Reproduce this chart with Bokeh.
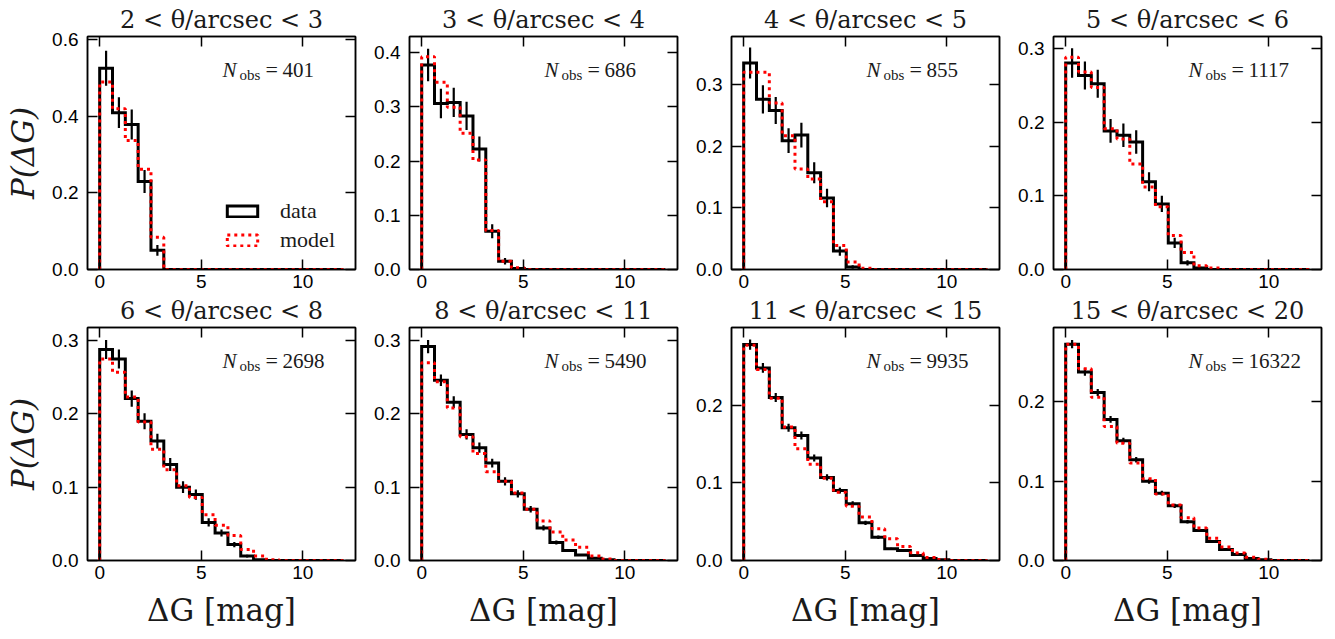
import numpy as np
from bokeh.plotting import figure
from bokeh.models import (Range1d, LinearAxis, FixedTicker, Label, Legend,
                          LegendItem, Title, ColumnDataSource, CustomJSTickFormatter,
                          PrintfTickFormatter)
from bokeh.layouts import row, column
from bokeh.embed import file_html
from bokeh.resources import INLINE

# ---------------- data ----------------
bin_edges = np.linspace(0, 12, 20)  # 19 bins

titles = ["2 < θ/arcsec < 3", "3 < θ/arcsec < 4", "4 < θ/arcsec < 5",
          "5 < θ/arcsec < 6", "6 < θ/arcsec < 8", "8 < θ/arcsec < 11",
          "11 < θ/arcsec < 15", "15 < θ/arcsec < 20"]
n_obs = [401, 686, 855, 1117, 2698, 5490, 9935, 16322]

data_1 = [0.526, 0.410, 0.379, 0.230, 0.050, 0, 0, 0, 0, 0, 0, 0, 0, 0, 0, 0, 0, 0, 0]
err_1 = [0.046, 0.040, 0.039, 0.030, 0.014, 0, 0, 0, 0, 0, 0, 0, 0, 0, 0, 0, 0, 0, 0]
model_1 = [0.490, 0.420, 0.337, 0.262, 0.084, 0, 0, 0, 0, 0, 0, 0, 0, 0, 0, 0, 0, 0, 0]

data_2 = [0.377, 0.306, 0.308, 0.283, 0.222, 0.0705, 0.015, 0.002, 0, 0, 0, 0, 0, 0, 0, 0, 0, 0, 0]
err_2 = [0.030, 0.027, 0.027, 0.026, 0.023, 0.013, 0.006, 0.002, 0, 0, 0, 0, 0, 0, 0, 0, 0, 0, 0]
model_2 = [0.392, 0.345, 0.299, 0.251, 0.202, 0.072, 0.015, 0.003, 0, 0, 0, 0, 0, 0, 0, 0, 0, 0, 0]

data_3 = [0.335, 0.276, 0.258, 0.209, 0.218, 0.157, 0.116, 0.030, 0.004, 0, 0, 0, 0, 0, 0, 0, 0, 0, 0]
err_3 = [0.025, 0.023, 0.022, 0.020, 0.020, 0.017, 0.015, 0.0075, 0.0027, 0, 0, 0, 0, 0, 0, 0, 0, 0, 0]
model_3 = [0.320, 0.320, 0.270, 0.217, 0.163, 0.147, 0.110, 0.039, 0.012, 0.002, 0, 0, 0, 0, 0, 0, 0, 0, 0]

data_4 = [0.280, 0.263, 0.252, 0.188, 0.182, 0.173, 0.119, 0.089, 0.036, 0.009, 0.002, 0, 0, 0, 0, 0, 0, 0, 0]
err_4 = [0.020, 0.019, 0.019, 0.016, 0.016, 0.016, 0.013, 0.011, 0.007, 0.0036, 0.0017, 0, 0, 0, 0, 0, 0, 0, 0]
model_4 = [0.288, 0.268, 0.247, 0.191, 0.177, 0.143, 0.112, 0.085, 0.046, 0.023, 0.005, 0.002, 0, 0, 0, 0, 0, 0, 0]

data_5 = [0.288, 0.275, 0.221, 0.190, 0.163, 0.131, 0.100, 0.090, 0.052, 0.0375, 0.0217, 0.006, 0.001, 0, 0, 0, 0, 0, 0]
err_5 = [0.013, 0.013, 0.011, 0.011, 0.010, 0.009, 0.008, 0.007, 0.0055, 0.0047, 0.0036, 0.0019, 0.0008, 0, 0, 0, 0, 0, 0]
model_5 = [0.275, 0.257, 0.223, 0.189, 0.152, 0.124, 0.102, 0.086, 0.0625, 0.048, 0.034, 0.015, 0.006, 0.001, 0, 0, 0, 0, 0]

data_6 = [0.292, 0.246, 0.216, 0.172, 0.154, 0.133, 0.108, 0.091, 0.070, 0.0445, 0.0245, 0.0135, 0.0075, 0.003, 0.001, 0, 0, 0, 0]
err_6 = [0.009, 0.008, 0.008, 0.007, 0.007, 0.006, 0.0056, 0.005, 0.0045, 0.0036, 0.0027, 0.002, 0.0015, 0.0009, 0.0005, 0, 0, 0, 0]
model_6 = [0.270, 0.244, 0.208, 0.169, 0.146, 0.121, 0.108, 0.092, 0.070, 0.054, 0.039, 0.028, 0.018, 0.006, 0.002, 0, 0, 0, 0]

data_7 = [0.278, 0.248, 0.210, 0.171, 0.161, 0.132, 0.107, 0.090, 0.073, 0.0485, 0.030, 0.015, 0.013, 0.0064, 0.0026, 0.001, 0, 0, 0]
err_7 = [0.0066, 0.0063, 0.0058, 0.0052, 0.0051, 0.0046, 0.0041, 0.0038, 0.0034, 0.0028, 0.0022, 0.0015, 0.0014, 0.001, 0.0006, 0.0004, 0, 0, 0]
model_7 = [0.277, 0.246, 0.209, 0.172, 0.144, 0.124, 0.106, 0.088, 0.070, 0.056, 0.041, 0.028, 0.018, 0.010, 0.004, 0.0013, 0, 0, 0]

data_8 = [0.273, 0.238, 0.212, 0.178, 0.151, 0.127, 0.100, 0.085, 0.069, 0.049, 0.038, 0.024, 0.0138, 0.0075, 0.0025, 0.001, 0, 0, 0]
err_8 = [0.0051, 0.0048, 0.0045, 0.0042, 0.0038, 0.0035, 0.0031, 0.0029, 0.0026, 0.0022, 0.0019, 0.0015, 0.0012, 0.0009, 0.0005, 0.0003, 0, 0, 0]
model_8 = [0.273, 0.242, 0.206, 0.169, 0.148, 0.123, 0.103, 0.084, 0.070, 0.054, 0.041, 0.028, 0.017, 0.0096, 0.004, 0.0017, 0, 0, 0]

y_max = [0.609, 0.4295, 0.378, 0.316, 0.318, 0.318, 0.300, 0.294]
y_ticks = [[0, 0.2, 0.4, 0.6], [0, 0.1, 0.2, 0.3, 0.4], [0, 0.1, 0.2, 0.3],
           [0, 0.1, 0.2, 0.3], [0, 0.1, 0.2, 0.3], [0, 0.1, 0.2, 0.3],
           [0, 0.1, 0.2], [0, 0.1, 0.2]]
x_ticks = [0, 5, 10]

all_data = [data_1, data_2, data_3, data_4, data_5, data_6, data_7, data_8]
all_err = [err_1, err_2, err_3, err_4, err_5, err_6, err_7, err_8]
all_model = [model_1, model_2, model_3, model_4, model_5, model_6, model_7, model_8]

# ---------------- helpers ----------------
def step_xy(edges, vals):
    xs, ys = [edges[0]], [0.0]
    for k, v in enumerate(vals):
        xs += [edges[k], edges[k + 1]]
        ys += [v, v]
    xs.append(edges[-1]); ys.append(0.0)
    return xs, ys

TICK_FONT = "Liberation Sans"
SERIF = "DejaVu Serif"
LSERIF = "Liberation Serif"
FRAME_W, FRAME_H = 268, 235
TXT = "#1a1a1a"


def style_axis(ax, ticks, labels=True):
    ax.ticker = FixedTicker(ticks=ticks)
    ax.major_tick_in = 10
    ax.major_tick_out = 0
    ax.minor_tick_in = 0
    ax.minor_tick_out = 0
    ax.axis_line_color = "black"
    ax.axis_line_width = 1.5
    ax.major_tick_line_color = "black"
    ax.major_tick_line_width = 1.5
    if labels:
        ax.major_label_text_font = TICK_FONT
        ax.major_label_text_font_size = "19px"
        ax.major_label_text_color = "black"
    else:
        ax.formatter = CustomJSTickFormatter(code="return ''")
        ax.major_label_standoff = 0


def make_panel(i, col, rw):
    left = 87 if col == 0 else 52
    right = 14 if col == 3 else 2
    top = 34
    bottom = 22 if rw == 0 else 79
    p = figure(width=left + FRAME_W + right, height=top + FRAME_H + bottom,
               x_range=Range1d(-0.6, 12.6), y_range=Range1d(0, y_max[i]),
               output_backend="svg", toolbar_location=None,
               min_border_left=left, min_border_right=right,
               min_border_top=top, min_border_bottom=bottom)
    p.xgrid.visible = False
    p.ygrid.visible = False
    p.outline_line_color = "black"
    p.outline_line_width = 1.5
    p.background_fill_color = "white"
    p.border_fill_color = "white"

    xax = p.below[0]
    yax = p.left[0]
    style_axis(xax, x_ticks)
    xax.major_label_standoff = 5
    style_axis(yax, y_ticks[i])
    yax.formatter = PrintfTickFormatter(format="%.1f")
    yax.major_label_standoff = 9

    if col == 0:
        yax.axis_label = "P(ΔG)"
        yax.axis_label_text_font = SERIF
        yax.axis_label_text_font_size = "31px"
        yax.axis_label_text_font_style = "italic"
        yax.axis_label_text_color = TXT
        yax.axis_label_standoff = 8
    if rw == 1:
        xax.axis_label = "ΔG [mag]"
        xax.axis_label_text_font = SERIF
        xax.axis_label_text_font_size = "31px"
        xax.axis_label_text_font_style = "normal"
        xax.axis_label_text_color = TXT
        xax.axis_label_standoff = 10

    top_ax = LinearAxis()
    style_axis(top_ax, x_ticks, labels=False)
    p.add_layout(top_ax, "above")
    right_ax = LinearAxis()
    style_axis(right_ax, y_ticks[i], labels=False)
    p.add_layout(right_ax, "right")

    p.title = Title(text=titles[i], align="center", text_font=SERIF,
                    text_font_size="24px", text_font_style="normal",
                    text_color=TXT, standoff=6)

    edges = list(bin_edges)
    centers = [(edges[k] + edges[k + 1]) / 2 for k in range(len(edges) - 1)]
    dx, dy = step_xy(edges, all_data[i])
    mx, my = step_xy(edges, all_model[i])
    d = np.array(all_data[i]); e = np.array(all_err[i])

    p.line(dx, dy, line_color="black", line_width=3, line_join="miter")
    p.segment(x0=centers, y0=list(d - e), x1=centers, y1=list(d + e),
              line_color="black", line_width=2.2)
    p.line(mx, my, line_color="red", line_width=3, line_dash="3 4")

    # N_obs annotation
    yb = FRAME_H - 35
    common = dict(x_units="screen", y_units="screen", text_font=LSERIF,
                  text_color=TXT, text_baseline="alphabetic")
    p.add_layout(Label(x=135, y=yb, text="N", text_font_style="italic",
                       text_font_size="21px", **common))
    p.add_layout(Label(x=152, y=yb - 5, text="obs", text_font_size="15px", **common))
    p.add_layout(Label(x=178, y=yb, text="=", text_font_size="22px", **common))
    p.add_layout(Label(x=195, y=yb, text=str(n_obs[i]), text_font_size="21px", **common))

    if i == 0:
        src = ColumnDataSource(dict(left=edges[:-1], right=edges[1:],
                                    top=all_data[i], bottom=[0] * len(centers)))
        q1 = p.quad(left="left", right="right", top="top", bottom="bottom", source=src,
                    fill_color=None, line_color="black", line_width=3, line_join="miter")
        srcm = ColumnDataSource(dict(left=edges[:-1], right=edges[1:],
                                     top=all_model[i], bottom=[0] * len(centers)))
        q2 = p.quad(left="left", right="right", top="top", bottom="bottom", source=srcm,
                    fill_color=None, line_color="red", line_width=3, line_dash="3 4")
        q1.visible = False
        q2.visible = False
        leg = Legend(items=[LegendItem(label="data", renderers=[q1], index=0),
                            LegendItem(label="model", renderers=[q2], index=0)],
                     location=(136, 16), padding=0, margin=0, spacing=3,
                     glyph_width=38, glyph_height=14, label_height=14,
                     label_standoff=19, border_line_alpha=0,
                     background_fill_alpha=0,
                     label_text_font=LSERIF, label_text_font_size="22px",
                     label_text_color=TXT)
        p.add_layout(leg, "center")
    return p


panels = []
for i in range(8):
    panels.append(make_panel(i, i % 4, i // 4))

layout = column(row(*panels[:4], spacing=0), row(*panels[4:], spacing=0), spacing=0)

open("out.html", "w").write(file_html(layout, INLINE))
